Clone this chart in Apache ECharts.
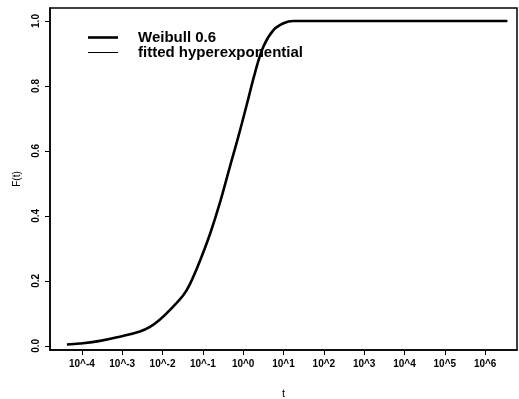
<!DOCTYPE html>
<html>
<head>
    <meta charset="UTF-8"/>
    <title>Weibull 0.6</title>
    <style>
        html, body { margin: 0; padding: 0; background: #fff; }
        #charts { width: 519px; height: 399px; }
    </style>
</head>
<body>
<div id="charts"></div>
<script src="https://cdn.jsdelivr.net/npm/echarts@6/dist/echarts.min.js"></script>
<script>
    // x values are log10(t)
    var logT = [-4.37, -4.05, -3.55, -3.06, -2.56, -2.31, -2.07, -1.82, -1.49, -1.32, -1.07, -0.82,
        -0.58, -0.33, -0.12, 0.09, 0.29, 0.50, 0.75, 1.00, 1.24, 2.0, 3.0, 4.0, 5.0, 6.0, 6.55];
    var weibull = [0.004, 0.007, 0.015, 0.028, 0.044, 0.058, 0.080, 0.110, 0.155, 0.190, 0.262, 0.345,
        0.439, 0.551, 0.644, 0.743, 0.839, 0.921, 0.972, 0.993, 1.0, 1.0, 1.0, 1.0, 1.0, 1.0, 1.0];
    var hyperexp = [0.004, 0.007, 0.015, 0.028, 0.044, 0.058, 0.080, 0.110, 0.155, 0.190, 0.262, 0.345,
        0.439, 0.551, 0.644, 0.743, 0.839, 0.921, 0.972, 0.993, 1.0, 1.0, 1.0, 1.0, 1.0, 1.0, 1.0];
    var xTicks = [-4, -3, -2, -1, 0, 1, 2, 3, 4, 5, 6];
    var yTicks = [0, 0.2, 0.4, 0.6, 0.8, 1.0];

    function pairs(xs, ys) {
        var out = [];
        for (var i = 0; i < xs.length; i++) out.push([xs[i], ys[i]]);
        return out;
    }

    var font = 'Liberation Sans, Arial, sans-serif';
    var myChart = echarts.init(document.getElementById('charts'));

    var option = {
        animation: false,
        textStyle: {fontFamily: font, color: '#000'},
        grid: {
            left: 50, right: 2, top: 8, bottom: 49,
            outerBoundsMode: 'none', containLabel: false,
            show: true, borderColor: '#000', borderWidth: 1.5
        },
        legend: {
            orient: 'vertical',
            left: 88, top: 30, padding: 0,
            itemWidth: 30, itemHeight: 13, itemGap: 0,
            textStyle: {
                fontSize: 15, fontFamily: font, color: '#000', fontWeight: 'bold',
                lineHeight: 14, padding: [0, 0, 0, 15]
            },
            data: [
                {name: 'Weibull 0.6', icon: 'path://M0,0H30V2.6H0Z', itemStyle: {color: '#000'}},
                {name: 'fitted hyperexponential', icon: 'path://M0,0H30V1H0Z', itemStyle: {color: '#000'}}
            ]
        },
        xAxis: {
            type: 'value',
            min: -4.79, max: 6.79,
            name: 't', nameLocation: 'middle', nameGap: 38,
            nameTextStyle: {fontSize: 11, color: '#000'},
            axisLine: {show: true, onZero: false, lineStyle: {color: '#000', width: 1.5}},
            axisTick: {show: true, length: 5, customValues: xTicks, lineStyle: {color: '#000'}},
            axisLabel: {
                customValues: xTicks, margin: 9, fontSize: 10, color: '#000', fontWeight: 'bold',
                formatter: function (v) { return '10^' + v; }
            },
            splitLine: {show: false}
        },
        yAxis: {
            type: 'value',
            min: -0.013, max: 1.04,
            name: 'F(t)', nameLocation: 'middle', nameGap: 28, nameRotate: 90,
            nameTextStyle: {fontSize: 10, color: '#000'},
            axisLine: {show: true, onZero: false, lineStyle: {color: '#000', width: 1.5}},
            axisTick: {show: true, length: 5, customValues: yTicks, lineStyle: {color: '#000'}},
            axisLabel: {
                customValues: yTicks, rotate: 90, margin: 9, fontSize: 10, color: '#000', fontWeight: 'bold',
                formatter: function (v) { return v.toFixed(1); }
            },
            splitLine: {show: false}
        },
        series: [
            {
                name: 'Weibull 0.6',
                type: 'line',
                symbol: 'none',
                smooth: 0.4,
                lineStyle: {color: '#000', width: 2.6},
                itemStyle: {color: '#000'},
                data: pairs(logT, weibull)
            },
            {
                name: 'fitted hyperexponential',
                type: 'line',
                symbol: 'none',
                smooth: 0.4,
                lineStyle: {color: '#000', width: 1},
                itemStyle: {color: '#000'},
                data: pairs(logT, hyperexp)
            }
        ]
    };
    myChart.setOption(option);
</script>
</body>
</html>
